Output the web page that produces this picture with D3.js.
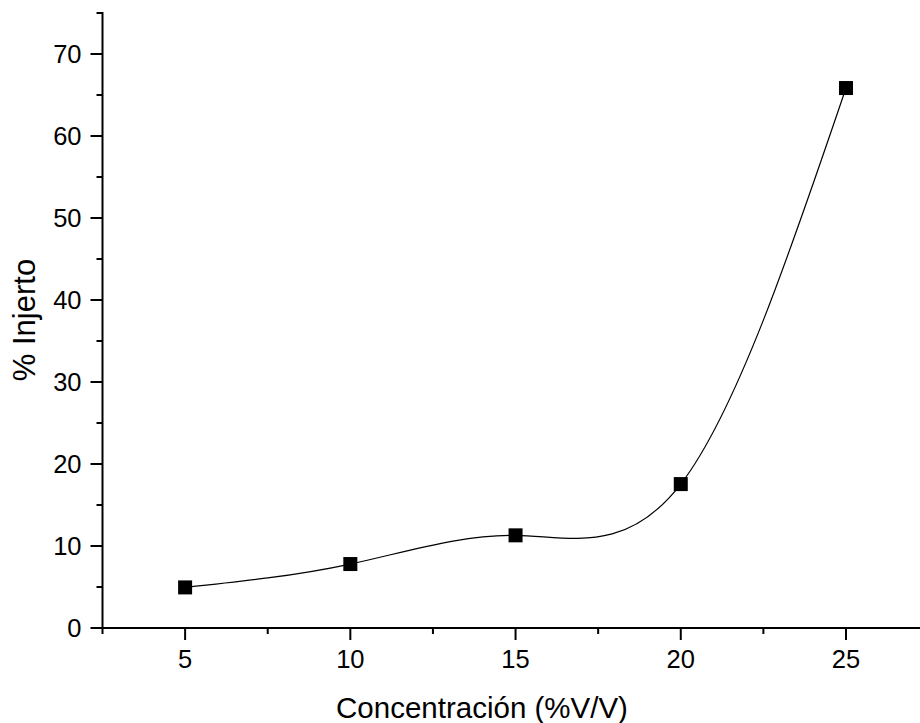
<!DOCTYPE html>
<html>
<head>
<meta charset="utf-8">
<script src="https://cdn.jsdelivr.net/npm/d3@7"></script>
<style>
  body { margin: 0; background: #fff; }
  svg text { font-family: "Liberation Sans", Arial, sans-serif; fill: #000; }
</style>
</head>
<body>
<div id="chart"></div>
<script>
// data
const concentration = [5, 10, 15, 20, 25];
const injerto = [4.95, 7.8, 11.3, 17.55, 65.85];
const xTicks = [5, 10, 15, 20, 25];
const yTicks = [0, 10, 20, 30, 40, 50, 60, 70];
const xMinor = [2.5, 7.5, 12.5, 17.5, 22.5, 27.5];
const yMinor = [5, 15, 25, 35, 45, 55, 65, 75];

const width = 920, height = 723;
const svg = d3.select("#chart").append("svg")
  .attr("width", width)
  .attr("height", height);

const x = d3.scaleLinear().domain([2.5, 27.5]).range([102.5, 928.6]);
const y = d3.scaleLinear().domain([0, 75]).range([628, 13]);

// x axis
const gx = svg.append("g").attr("transform", `translate(0,${y(0)})`);
gx.append("line").attr("x1", x(2.5) - 1).attr("x2", width + 10)
  .attr("stroke", "#000").attr("stroke-width", 2);
gx.selectAll(".maj").data(xTicks).join("line")
  .attr("x1", d => x(d)).attr("x2", d => x(d)).attr("y1", 0).attr("y2", 12)
  .attr("stroke", "#000").attr("stroke-width", 2);
gx.selectAll(".min").data(xMinor).join("line")
  .attr("x1", d => x(d)).attr("x2", d => x(d)).attr("y1", 0).attr("y2", 6)
  .attr("stroke", "#000").attr("stroke-width", 2);
gx.selectAll("text").data(xTicks).join("text")
  .attr("x", d => x(d)).attr("y", 40)
  .attr("text-anchor", "middle").attr("font-size", 25.5)
  .text(d => d);

// y axis
const gy = svg.append("g").attr("transform", `translate(${x(2.5)},0)`);
gy.append("line").attr("y1", y(75) - 1).attr("y2", y(0) + 1)
  .attr("stroke", "#000").attr("stroke-width", 2);
gy.selectAll(".maj").data(yTicks).join("line")
  .attr("y1", d => y(d)).attr("y2", d => y(d)).attr("x1", 0).attr("x2", -12)
  .attr("stroke", "#000").attr("stroke-width", 2);
gy.selectAll(".min").data(yMinor).join("line")
  .attr("y1", d => y(d)).attr("y2", d => y(d)).attr("x1", 0).attr("x2", -6)
  .attr("stroke", "#000").attr("stroke-width", 2);
gy.selectAll("text").data(yTicks).join("text")
  .attr("x", -21).attr("y", d => y(d) + 9)
  .attr("text-anchor", "end").attr("font-size", 25.5)
  .text(d => d);

// axis titles
svg.append("text")
  .attr("x", 482).attr("y", 718)
  .attr("text-anchor", "middle").attr("font-size", 29.5)
  .text("Concentración (%V/V)");
svg.append("text")
  .attr("transform", `translate(35,320) rotate(-90)`)
  .attr("text-anchor", "middle").attr("font-size", 31)
  .text("% Injerto");

// spline through points
const pts = concentration.map((c, i) => [c, injerto[i]]);
svg.append("path")
  .datum(pts)
  .attr("fill", "none").attr("stroke", "#000").attr("stroke-width", 1.2)
  .attr("d", d3.line().x(d => x(d[0])).y(d => y(d[1])).curve(d3.curveNatural));

// square markers
svg.selectAll(".pt").data(pts).join("rect")
  .attr("x", d => x(d[0]) - 7).attr("y", d => y(d[1]) - 7)
  .attr("width", 14).attr("height", 14).attr("fill", "#000");
</script>
</body>
</html>
